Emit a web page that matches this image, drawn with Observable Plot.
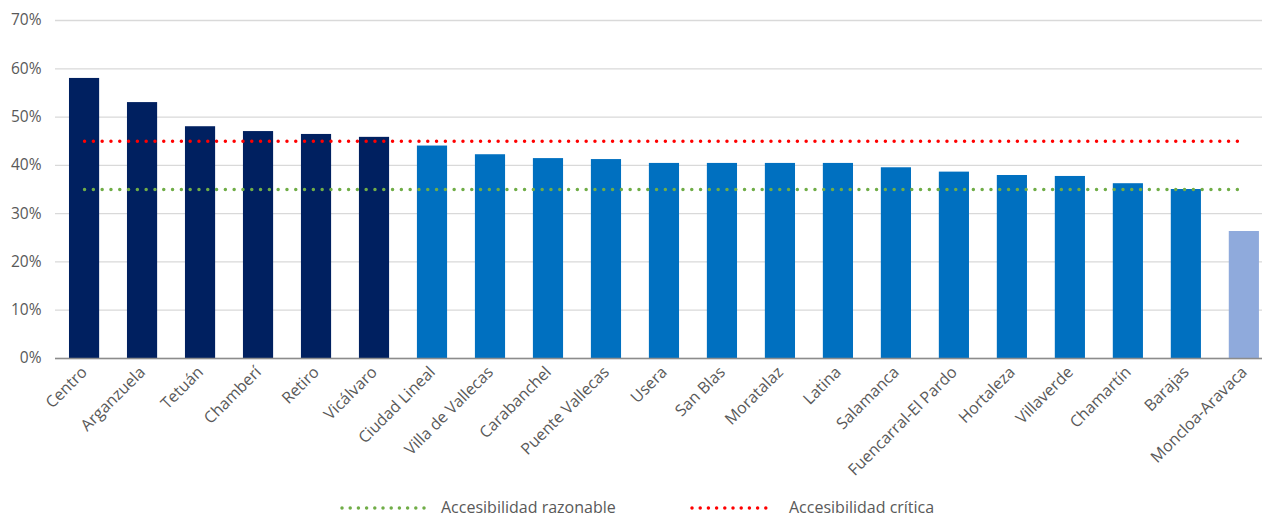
<!DOCTYPE html>
<html>
<head>
<meta charset="utf-8">
<script src="https://cdn.jsdelivr.net/npm/d3@7"></script>
<script src="https://cdn.jsdelivr.net/npm/@observablehq/plot@0.6"></script>
<style>
  body { margin: 0; background: #fff; font-family: "Open Sans", sans-serif; }
  #wrap { position: relative; width: 1262px; height: 517px; }
  #legend { position: absolute; left: 0; top: 494px; }
</style>
</head>
<body>
<div id="wrap">
  <div id="chart"></div>
  <svg id="legend" width="1262" height="23"></svg>
</div>
<script>
// Share of population per district (accessibility indicator)
const districts = [
  "Centro", "Arganzuela", "Tetuán", "Chamberí", "Retiro", "Vicálvaro",
  "Ciudad Lineal", "Villa de Vallecas", "Carabanchel", "Puente Vallecas",
  "Usera", "San Blas", "Moratalaz", "Latina", "Salamanca",
  "Fuencarral-El Pardo", "Hortaleza", "Villaverde", "Chamartín", "Barajas",
  "Moncloa-Aravaca"
];
const values = [
  0.580, 0.530, 0.480, 0.470, 0.464, 0.458,
  0.440, 0.422, 0.414, 0.412,
  0.404, 0.404, 0.404, 0.404, 0.395,
  0.386, 0.379, 0.377, 0.362, 0.350,
  0.263
];
// Tier of each district: above critical, between thresholds, below reasonable
const tiers = [
  "crítica", "crítica", "crítica", "crítica", "crítica", "crítica",
  "media", "media", "media", "media", "media", "media", "media", "media",
  "media", "media", "media", "media", "media", "media",
  "razonable"
];
const tierNames = ["crítica", "media", "razonable"];
const tierColors = ["#002060", "#0070C0", "#8FAADC"];

// Reference thresholds
const thresholdNames = ["Accesibilidad razonable", "Accesibilidad crítica"];
const thresholdValues = [0.35, 0.45];
const thresholdColors = ["#70AD47", "#FF0000"];

const yTicks = [0, 0.1, 0.2, 0.3, 0.4, 0.5, 0.6, 0.7];

const bars = districts.map((d, i) => ({district: d, value: values[i], tier: tiers[i]}));
const thresholdRows = (v) => districts.map(d => ({district: d, value: v}));

const chart = Plot.plot({
  width: 1262,
  height: 494,
  marginLeft: 55,
  marginRight: 0,
  marginTop: 20,
  marginBottom: 136,
  style: {fontFamily: "'Open Sans', sans-serif", fontSize: "15px", color: "#595959", background: "#fff"},
  x: {domain: districts, paddingInner: 0.48, paddingOuter: 0.147, align: 0.82, round: false, label: null},
  y: {domain: [0, 0.7], label: null},
  color: {domain: tierNames, range: tierColors},
  marks: [
    Plot.gridY(yTicks, {stroke: "#D9D9D9", strokeOpacity: 1, strokeWidth: 1.3}),
    Plot.axisY(yTicks, {tickSize: 0, tickPadding: 14, tickFormat: d3.format(".0%"), fill: "#595959", fontSize: 15.5}),
    Plot.axisX({tickSize: 0, tickPadding: 11, tickRotate: -45, fill: "#595959", fontSize: 16}),
    Plot.barY(bars, {x: "district", y: "value", fill: "tier"}),
    Plot.ruleY([0], {stroke: "#8C8C8C", strokeWidth: 1.5}),
    ...thresholdValues.map((v, k) =>
      Plot.lineY(thresholdRows(v), {
        x: "district", y: "value",
        stroke: thresholdColors[k], strokeWidth: 3.5,
        strokeLinecap: "round", strokeDasharray: "0 8.8"
      })
    )
  ]
});
document.getElementById("chart").appendChild(chart);

// Legend for the two threshold lines
const legend = d3.select("#legend");
const legendItems = [
  {x0: 342, x1: 425, tx: 441},
  {x0: 692, x1: 773, tx: 789}
];
legendItems.forEach((it, k) => {
  legend.append("line")
    .attr("x1", it.x0).attr("x2", it.x1).attr("y1", 14).attr("y2", 14)
    .attr("stroke", thresholdColors[k]).attr("stroke-width", 3.5)
    .attr("stroke-linecap", "round").attr("stroke-dasharray", "0 8.2");
  legend.append("text")
    .attr("x", it.tx).attr("y", 19)
    .attr("fill", "#595959")
    .attr("font-family", "'Open Sans', sans-serif")
    .attr("font-size", 16)
    .text(thresholdNames[k]);
});
</script>
</body>
</html>
